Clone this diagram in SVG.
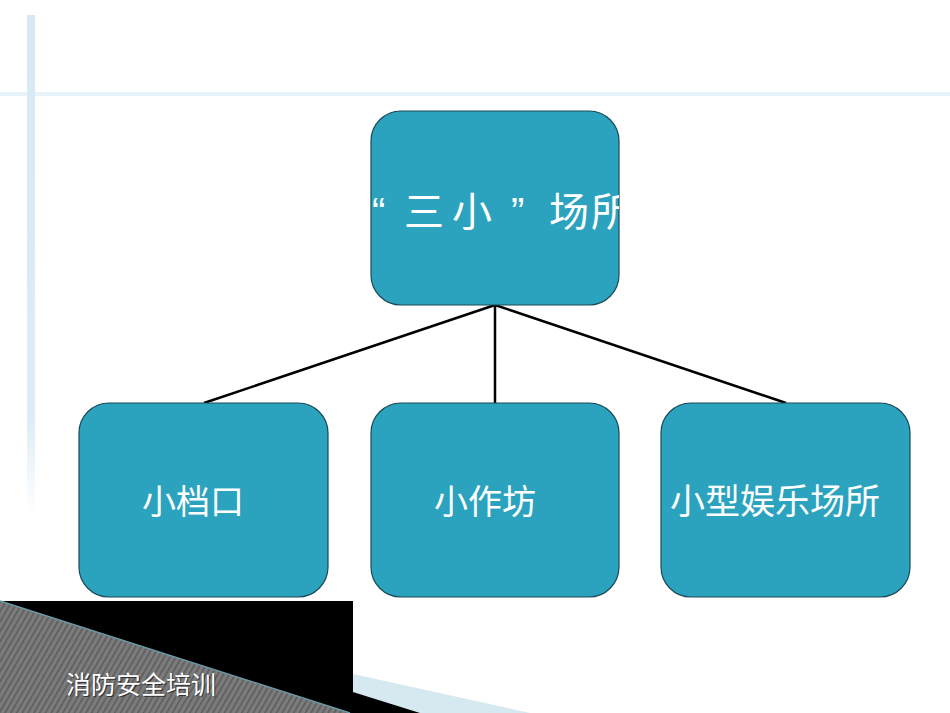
<svg xmlns="http://www.w3.org/2000/svg" width="950" height="713" viewBox="0 0 950 713">
<style>
.node{fill:#2ba3bf;stroke:#1a4a55;stroke-width:1.2}
.lbl{font-family:"Noto Sans CJK SC","Noto Sans",sans-serif;fill:#ffffff;text-anchor:middle}
.q{font-family:"Liberation Sans",sans-serif}
.conn{stroke:#000;stroke-width:2.5;fill:none}
</style>
<defs>
<linearGradient id="vfade" x1="0" y1="0" x2="0" y2="1">
<stop offset="0" stop-color="#d6e9f3"/>
<stop offset="0.8" stop-color="#dcecf5"/>
<stop offset="1" stop-color="#ffffff"/>
</linearGradient>
<pattern id="hatch" width="5" height="5" patternUnits="userSpaceOnUse" patternTransform="rotate(30)">
<rect width="5" height="5" fill="#7c7c7c"/>
<rect width="1.6" height="5" fill="#5c5c5c"/>
</pattern>
<clipPath id="topclip"><rect x="371" y="111" width="248" height="194" rx="30"/></clipPath>
</defs>
<rect width="950" height="713" fill="#ffffff"/>
<rect x="0" y="92" width="950" height="4" fill="#e6f3f8"/>
<rect x="27" y="15" width="8" height="500" fill="url(#vfade)"/>
<g id="connectors">
<line class="conn" x1="495" y1="305" x2="204" y2="403"/>
<line class="conn" x1="495" y1="305" x2="495" y2="403"/>
<line class="conn" x1="495" y1="305" x2="786" y2="403"/>
</g>
<g id="node-top">
<rect class="node" x="371" y="111" width="248" height="194" rx="30"/>
<text class="lbl" font-size="40" style="text-anchor:start" clip-path="url(#topclip)" y="226"><tspan class="q" x="372">“</tspan><tspan x="404">三</tspan><tspan x="452">小</tspan><tspan class="q" x="511">”</tspan><tspan x="549">场</tspan><tspan x="591">所</tspan></text>
</g>
<g id="node-left">
<rect class="node" x="79" y="403" width="249" height="194" rx="30"/>
<text class="lbl" x="193" y="514" font-size="34">小档口</text>
</g>
<g id="node-mid">
<rect class="node" x="371" y="403" width="248" height="194" rx="30"/>
<text class="lbl" x="485" y="514" font-size="34">小作坊</text>
</g>
<g id="node-right">
<rect class="node" x="661" y="403" width="249" height="194" rx="30"/>
<text class="lbl" x="775" y="514" font-size="35">小型娱乐场所</text>
</g>
<g id="footer">
<rect x="0" y="601" width="353" height="112" fill="#000"/>
<polygon points="0,601 350,713 0,713" fill="url(#hatch)"/>
<line x1="0" y1="601" x2="350" y2="713" stroke="#6a9aa8" stroke-width="1.5"/>
<polygon points="353,674 530,713 420,713 353,692" fill="#d6e8f0"/>
<polygon points="353,692 420,713 353,713" fill="#000"/>
<text x="67" y="695" font-size="25" font-family="Noto Sans CJK SC,sans-serif" fill="#222" opacity="0.8">消防安全培训</text>
<text x="66" y="694" font-size="25" font-family="Noto Sans CJK SC,sans-serif" fill="#ffffff">消防安全培训</text>
</g>
</svg>
